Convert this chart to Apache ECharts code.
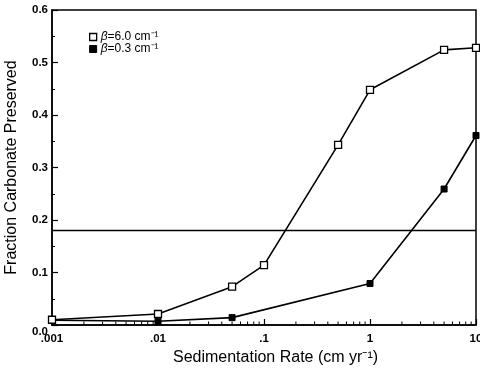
<!DOCTYPE html>
<html>
<head>
<meta charset="utf-8">
<script src="https://cdn.jsdelivr.net/npm/echarts@6/dist/echarts.min.js"></script>
<style>
  html, body { margin: 0; padding: 0; background: #fff; }
  #chart { width: 480px; height: 372px; }
</style>
</head>
<body>
<div id="chart"></div>
<script>
// Sedimentation rates (cm/yr) and fraction of carbonate preserved
const ratesHigh = [0.001, 0.01, 0.05, 0.1, 0.5, 1, 5, 10];
const fracHigh  = [0.010, 0.021, 0.073, 0.114, 0.343, 0.448, 0.524, 0.528];
const ratesLow  = [0.001, 0.01, 0.05, 1, 5, 10];
const fracLow   = [0.009, 0.007, 0.014, 0.079, 0.259, 0.361];
const thresholdLevel = 0.18;
const xTickLabels = { 0.001: '.001', 0.01: '.01', 0.1: '.1', 1: '1', 10: '10' };
const yTickLabels = ['0.0', '0.1', '0.2', '0.3', '0.4', '0.5', '0.6'];
// log-scale minor tick positions (2..9 in each decade)
const minorRates = [];
[0.001, 0.01, 0.1, 1].forEach(d => { for (let k = 2; k <= 9; k++) minorRates.push(+(d * k).toPrecision(3)); });

const FONT = '"Liberation Sans", Arial, Helvetica, sans-serif';
const nameHigh = 'β=6.0 cm⁻¹';
const nameLow = 'β=0.3 cm⁻¹';

const chart = echarts.init(document.getElementById('chart'));
chart.setOption({
  animation: false,
  backgroundColor: '#fff',
  grid: {
    left: 52, right: 4, top: 10, bottom: 47,
    outerBoundsMode: 'none', containLabel: false,
    show: true, borderColor: '#000', borderWidth: 1.5, backgroundColor: 'transparent'
  },
  legend: {
    orient: 'vertical', left: 84, top: 26, itemGap: 0, itemWidth: 7, itemHeight: 7,
    data: [
      { name: nameHigh, icon: 'rect', itemStyle: { color: '#fff', borderColor: '#000', borderWidth: 1.3 } },
      { name: nameLow, icon: 'rect', itemStyle: { color: '#000', borderColor: '#000', borderWidth: 1 } }
    ],
    // italic beta, rest upright
    formatter: n => '{i|β}' + n.slice(1),
    textStyle: {
      fontFamily: FONT, fontSize: 12, lineHeight: 12, color: '#000', padding: [0, 0, 0, -1],
      rich: {
        i: { fontFamily: FONT, fontSize: 12, lineHeight: 12, fontStyle: 'italic', color: '#000' }
      }
    }
  },
  xAxis: {
    type: 'log', logBase: 10, min: 0.001, max: 10,
    name: 'Sedimentation Rate (cm yr⁻¹)', nameLocation: 'middle', nameGap: 23,
    nameTextStyle: { fontFamily: FONT, fontSize: 16, color: '#000', padding: [0, 0, 0, 23] },
    axisLine: { lineStyle: { color: '#000', width: 1.5 } },
    axisTick: { inside: true, length: 6, lineStyle: { color: '#000', width: 1.2 } },
    minorTick: { show: false },
    splitLine: { show: false },
    axisLabel: {
      fontFamily: FONT, fontSize: 11.5, fontWeight: 'bold', color: '#000', margin: 8,
      formatter: v => xTickLabels[+v.toPrecision(3)] || ''
    }
  },
  yAxis: {
    type: 'value', min: 0, max: 0.6, interval: 0.1,
    name: 'Fraction Carbonate Preserved', nameLocation: 'middle', nameGap: 32,
    nameTextStyle: { fontFamily: FONT, fontSize: 16, color: '#000' },
    axisLine: { lineStyle: { color: '#000', width: 1.5 } },
    axisTick: { inside: true, length: 6, lineStyle: { color: '#000', width: 1.2 } },
    minorTick: { show: true, splitNumber: 2, length: 3, lineStyle: { color: '#000', width: 1 } },
    splitLine: { show: false },
    axisLabel: {
      fontFamily: FONT, fontSize: 11.5, fontWeight: 'bold', color: '#000', margin: 4,
      formatter: (v) => {
        const i = Math.round(v * 10);
        return i === 0 ? '{z|' + yTickLabels[0] + '}' : yTickLabels[i];
      },
      rich: { z: { fontFamily: FONT, fontSize: 11.5, fontWeight: 'bold', color: '#000', padding: [14, 0, 0, 0] } }
    }
  },
  series: [
    {
      // minor ticks for the logarithmic rate axis
      type: 'custom', silent: true, legendHoverLink: false,
      data: minorRates.map(r => [r, 0]),
      renderItem: (params, api) => {
        const p = api.coord([api.value(0), 0]);
        return { type: 'line', shape: { x1: p[0], y1: p[1], x2: p[0], y2: p[1] - 3.5 }, style: { stroke: '#000', lineWidth: 1 } };
      },
      z: 1
    },
    {
      name: nameLow, type: 'line',
      data: ratesLow.map((r, i) => [r, fracLow[i]]),
      symbol: 'rect', symbolSize: 6,
      lineStyle: { color: '#000', width: 1.6 },
      itemStyle: { color: '#000', borderColor: '#000', borderWidth: 1 },
      z: 2,
      markLine: {
        silent: true, symbol: 'none', label: { show: false },
        lineStyle: { color: '#000', width: 1.4, type: 'solid' },
        data: [{ yAxis: thresholdLevel }]
      }
    },
    {
      name: nameHigh, type: 'line',
      data: ratesHigh.map((r, i) => [r, fracHigh[i]]),
      symbol: 'rect', symbolSize: 7,
      lineStyle: { color: '#000', width: 1.6 },
      itemStyle: { color: '#fff', borderColor: '#000', borderWidth: 1.3 },
      z: 3
    }
  ]
});
</script>
</body>
</html>
